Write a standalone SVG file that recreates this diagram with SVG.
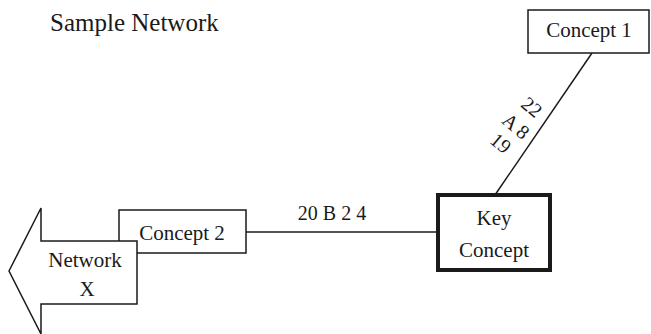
<svg xmlns="http://www.w3.org/2000/svg" width="651" height="334" viewBox="0 0 651 334" font-family="Liberation Serif, serif">
  <style>
    .t { font-family: "Liberation Serif", serif; fill: #1a1a1a; }
    .lbl { font-size: 21px; text-anchor: middle; }
    .edge-lbl { font-size: 20px; text-anchor: middle; }
    .box { fill: #ffffff; stroke: #1a1a1a; stroke-width: 1.5; }
    .key { fill: #ffffff; stroke: #1a1a1a; stroke-width: 4; }
    .edge { stroke: #1a1a1a; stroke-width: 1.5; fill: none; }
  </style>

  <text id="title" class="t" x="50" y="31" font-size="25">Sample Network</text>

  <!-- connectors -->
  <g id="connectors">
    <line class="edge" x1="592" y1="53" x2="495" y2="195"/>
    <line class="edge" x1="246" y1="232" x2="438" y2="232"/>
    <text class="t edge-lbl" x="332" y="220">20 B 2 4</text>
    <text class="t edge-lbl" transform="translate(532,107) rotate(40)" y="7">22</text>
    <text class="t edge-lbl" transform="translate(516,126) rotate(40)" y="7">A 8</text>
    <text class="t edge-lbl" transform="translate(501,143) rotate(40)" y="7">19</text>
  </g>

  <g id="concept1">
    <rect class="box" x="528" y="10" width="121" height="43"/>
    <text class="t lbl" x="589" y="37">Concept 1</text>
  </g>

  <g id="key-concept">
    <rect class="key" x="438" y="195" width="112" height="75"/>
    <text class="t lbl" x="494" y="225">Key</text>
    <text class="t lbl" x="494" y="257">Concept</text>
  </g>

  <g id="concept2">
    <rect class="box" x="119" y="210" width="127" height="43"/>
    <text class="t lbl" x="182" y="240">Concept 2</text>
  </g>

  <g id="network-x">
    <polygon class="box" points="9,271 41,208 41,241 137,241 137,304 41,304 41,334"/>
    <text class="t lbl" x="85" y="267">Network</text>
    <text class="t lbl" x="87" y="296">X</text>
  </g>
</svg>
